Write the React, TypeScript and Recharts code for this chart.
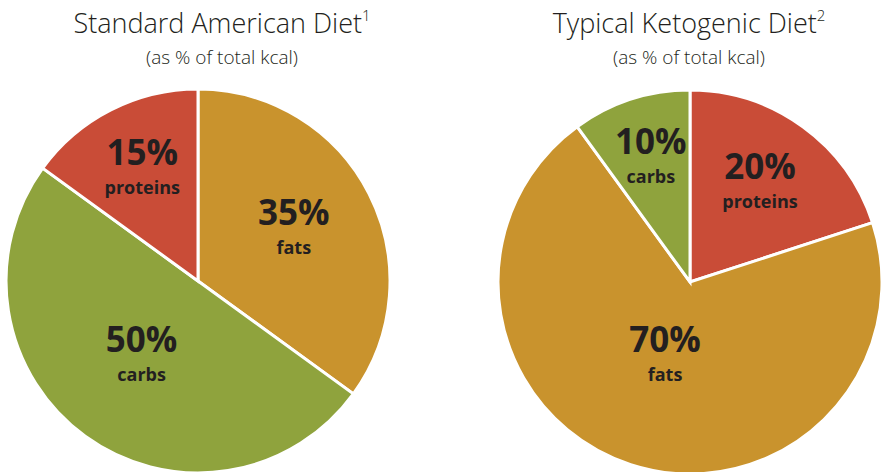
import { PieChart, Pie, Cell } from 'recharts';

const RADIAN = Math.PI / 180;

const americanNames = ['fats', 'carbs', 'proteins'];
const americanValues = [35, 50, 15];
const ketoNames = ['proteins', 'fats', 'carbs'];
const ketoValues = [20, 70, 10];

const colors: Record<string, string> = {
  fats: '#C9932D',
  carbs: '#8FA33D',
  proteins: '#C94C37',
};

const americanData = americanNames.map((name, i) => ({ name, value: americanValues[i] }));
const ketoData = ketoNames.map((name, i) => ({ name, value: ketoValues[i] }));

const font = '"Open Sans", "Noto Sans", sans-serif';

function SliceLabel(props: any) {
  const { cx, cy, midAngle, outerRadius, percent, name, value } = props;
  // bigger slices sit closer to the middle
  const r = outerRadius * (0.7 - 0.4 * percent);
  const x = cx + r * Math.cos(-midAngle * RADIAN);
  const y = cy + r * Math.sin(-midAngle * RADIAN);
  return (
    <g>
      <text x={x} y={y - 7} textAnchor="middle" fill="#231F20" fontFamily={font} fontWeight={700} fontSize={35}>
        {value}%
      </text>
      <text x={x} y={y + 22} textAnchor="middle" fill="#231F20" fontFamily={font} fontWeight={700} fontSize={18}>
        {name}
      </text>
    </g>
  );
}

function Title({ x, text, note }: { x: number; text: string; note: string }) {
  return (
    <div style={{ position: 'absolute', left: x - 200, top: 0, width: 400, textAlign: 'center', fontFamily: font, color: '#231F20' }}>
      <div style={{ fontSize: 27, fontWeight: 300, lineHeight: '46px' }}>
        {text}
        <sup style={{ fontSize: 15, verticalAlign: 'top', lineHeight: '30px' }}>{note}</sup>
      </div>
      <div style={{ fontSize: 19, fontWeight: 300, lineHeight: '22px' }}>(as % of total kcal)</div>
    </div>
  );
}

export default function App() {
  return (
    <div style={{ position: 'absolute', left: 0, top: 0, width: 885, height: 472, background: '#fff', overflow: 'hidden' }}>
      <PieChart width={885} height={472} margin={{ top: 0, right: 0, bottom: 0, left: 0 }}>
        <Pie
          data={americanData}
          dataKey="value"
          nameKey="name"
          cx={198}
          cy={281}
          outerRadius={192}
          startAngle={90}
          endAngle={-270}
          stroke="#fff"
          strokeWidth={3}
          labelLine={false}
          label={SliceLabel}
          isAnimationActive={false}
        >
          {americanData.map((d) => (
            <Cell key={d.name} fill={colors[d.name]} />
          ))}
        </Pie>
        <Pie
          data={ketoData}
          dataKey="value"
          nameKey="name"
          cx={690}
          cy={282}
          outerRadius={192}
          startAngle={90}
          endAngle={-270}
          stroke="#fff"
          strokeWidth={3}
          labelLine={false}
          label={SliceLabel}
          isAnimationActive={false}
        >
          {ketoData.map((d) => (
            <Cell key={d.name} fill={colors[d.name]} />
          ))}
        </Pie>
      </PieChart>
      <Title x={222} text="Standard American Diet" note="1" />
      <Title x={689} text="Typical Ketogenic Diet" note="2" />
    </div>
  );
}
